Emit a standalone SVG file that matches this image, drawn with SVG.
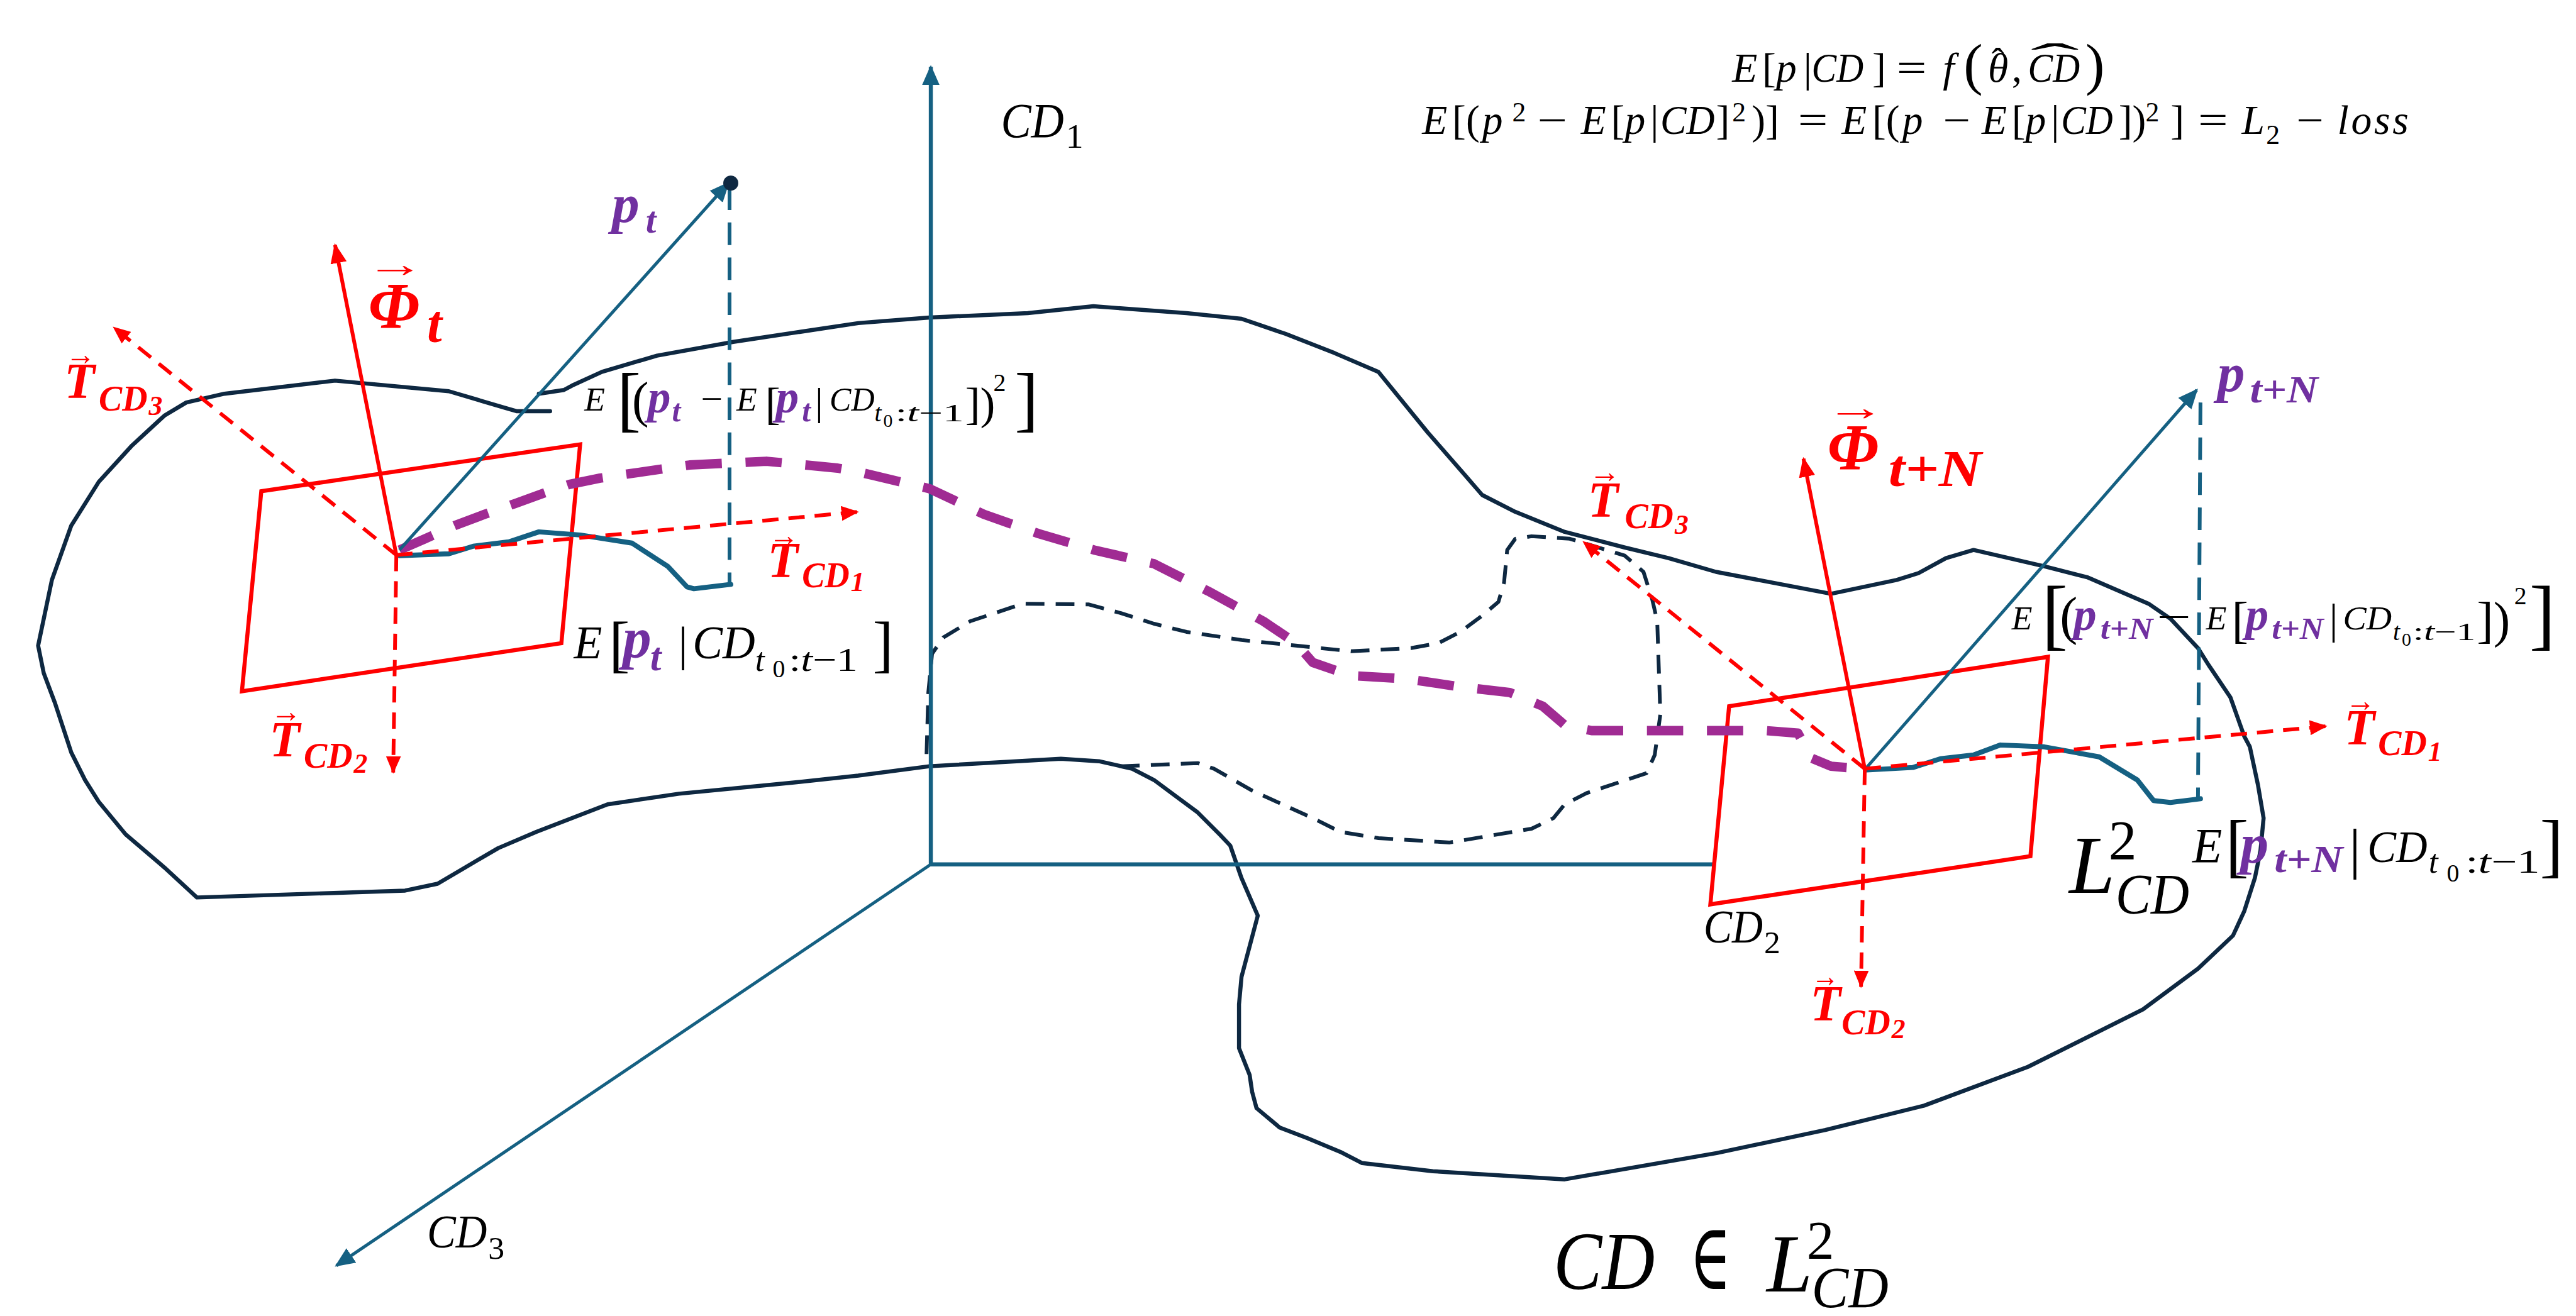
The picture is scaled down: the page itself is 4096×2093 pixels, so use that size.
<svg xmlns="http://www.w3.org/2000/svg" width="4096" height="2093" viewBox="0 0 4096 2093">
<defs>
<style>
.ol{fill:none;stroke:#0E2841;stroke-width:6.5;stroke-linejoin:round;stroke-linecap:round}
.old{fill:none;stroke:#0E2841;stroke-width:6;stroke-dasharray:30 18;stroke-linejoin:round}
.ax{fill:none;stroke:#156082;stroke-width:6.5}
.axt{fill:none;stroke:#156082;stroke-width:5}
.tw{fill:none;stroke:#156082;stroke-width:8;stroke-linejoin:round;stroke-linecap:round}
.tv{fill:none;stroke:#156082;stroke-width:6;stroke-dasharray:36 20}
.pd{fill:none;stroke:#A02B93;stroke-width:15;stroke-dasharray:58 38;stroke-linejoin:round}
.rs{fill:none;stroke:#FF0000;stroke-width:6}
.rd{fill:none;stroke:#FF0000;stroke-width:6;stroke-dasharray:26 16}
.pl{fill:none;stroke:#FF0000;stroke-width:6.5}
text{font-family:"Liberation Serif","DejaVu Serif",serif}
.m{font-style:italic;fill:#000}
.u{font-style:normal;fill:#000}
.r{font-style:italic;font-weight:bold;fill:#FF0000}
.pu{font-style:italic;font-weight:bold;fill:#7030A0}
</style>
<marker id="mR" viewBox="0 0 32 26" refX="29" refY="13" markerWidth="32" markerHeight="26" markerUnits="userSpaceOnUse" orient="auto"><path d="M0,0L32,13L0,26z" fill="#FF0000"/></marker>
<marker id="mRs" viewBox="0 0 28 24" refX="26" refY="12" markerWidth="28" markerHeight="24" markerUnits="userSpaceOnUse" orient="auto"><path d="M0,0L28,12L0,24z" fill="#FF0000"/></marker>
<marker id="mT" viewBox="0 0 32 28" refX="29" refY="14" markerWidth="32" markerHeight="28" markerUnits="userSpaceOnUse" orient="auto"><path d="M0,0L32,14L0,28z" fill="#156082"/></marker>
</defs>
<rect width="4096" height="2093" fill="#FFFFFF"/>
<g transform="scale(0.994)">

<g id="connectors">
<path id="outline" class="ol" d="M880,658 L827,658 806,652 762,639 718,626 536,609 359,630 298,644 263,665 210,714 158,771 114,841 83,928 61,1033 70,1077 88,1125 114,1204 136,1248 158,1283 201,1335 263,1388 315,1436 648,1425 700,1414 744,1388 797,1357 858,1331 972,1287 1086,1270 1270,1252 1373,1241 1487,1226 1697,1214 1758,1218 1811,1230 1846,1248 1916,1300 1951,1335 1968,1353 1986,1405 2012,1465 1986,1563 1982,1607 1982,1677 1999,1720 2003,1747 2010,1773 2047,1804 2091,1821 2144,1843 2179,1861 2292,1874 2503,1887 2746,1845 2920,1808 3078,1769 3244,1707 3428,1615 3516,1550 3572,1497 3590,1458 3607,1405 3616,1361 3621,1309 3612,1256 3599,1195 3590,1178 3568,1116 3533,1064 3516,1037 3472,990 3437,966 3340,924 3270,906 3157,880 3113,893 3069,917 3034,928 2929,950 2745,915 2669,893 2599,876 2503,851 2424,819 2371,792 2345,762 2284,692 2205,595 2135,565 2056,534 1986,510 1898,501 1749,490 1644,501 1487,508 1373,517 1173,547 1051,569 963,595 915,617 902,624 862,630"/>
<path id="inner-dashed" class="old" d="M1793,1226 L1916,1221 1942,1230 2003,1265 2100,1309 2144,1331 2205,1341 2319,1348 2450,1326 2485,1309 2503,1287 2538,1269 2634,1237 2647,1208 2656,1143 2651,994 2643,959 2629,915 2599,889 2511,862 2450,858 2424,862 2411,880 2406,932 2397,963 2371,985 2336,1011 2301,1029 2257,1037 2161,1042 2073,1033 1986,1024 1898,1011 1846,998 1793,981 1741,967 1636,966 1552,994 1509,1020 1491,1046 1485,1108 1482,1213"/>
<line id="axis-cd1" class="ax" x1="1489" y1="1383" x2="1489" y2="107" marker-end="url(#mT)"/>
<line id="axis-cd2" class="ax" x1="1489" y1="1383" x2="2742" y2="1383"/>
<line id="axis-cd3" class="axt" x1="1489" y1="1383" x2="538" y2="2025" marker-end="url(#mT)"/>
<polygon id="plane-left" class="pl" points="418,786 928,711 898,1029 387,1106"/>
<polygon id="plane-right" class="pl" points="2766,1130 3276,1051 3248,1370 2736,1447"/>
<path id="trajectory" class="pd" d="M639,880 L680,862 727,841 775,823 823,806 870,789 911,775 960,765 1007,758 1103,744 1226,738 1340,749 1373,755 1487,782 1574,823 1662,854 1750,880 1846,902 1933,946 2021,994 2073,1029 2100,1060 2161,1081 2249,1086 2336,1099 2415,1108 2468,1130 2503,1160 2546,1169 2643,1169 2746,1169 2824,1169 2876,1173 2898,1213 2929,1226 2977,1230"/>
<polyline id="wiggle-left" class="tw" points="639,889 718,886 757,874 814,867 862,851 928,856 1011,869 1068,906 1099,939 1110,942 1169,935"/>
<polyline id="wiggle-right" class="tw" points="2986,1232 3060,1228 3104,1214 3157,1208 3200,1192 3270,1195 3358,1211 3419,1248 3445,1281 3472,1284 3520,1278"/>
<line id="proj-left" class="tv" x1="1167" y1="300" x2="1167" y2="935"/>
<line id="proj-right" class="tv" x1="3520" y1="644" x2="3516" y2="1278"/>
<line id="pt-vec" class="axt" x1="639" y1="880" x2="1165" y2="293" marker-end="url(#mT)"/>
<line id="ptn-vec" class="axt" x1="2986" y1="1228" x2="3514" y2="624" marker-end="url(#mT)"/>
<circle id="pt-dot" cx="1169" cy="293" r="12" fill="#0E2841"/>
<line id="phi-left" class="rs" x1="634" y1="888" x2="536" y2="392" marker-end="url(#mR)"/>
<line id="tcd3-left" class="rd" x1="634" y1="888" x2="182" y2="524" marker-end="url(#mRs)"/>
<line id="tcd2-left" class="rd" x1="634" y1="888" x2="629" y2="1236" marker-end="url(#mRs)"/>
<line id="tcd1-left" class="rd" x1="634" y1="888" x2="1372" y2="819" marker-end="url(#mRs)"/>
<line id="phi-right" class="rs" x1="2983" y1="1230" x2="2885" y2="734" marker-end="url(#mR)"/>
<line id="tcd3-right" class="rd" x1="2983" y1="1230" x2="2533" y2="867" marker-end="url(#mRs)"/>
<line id="tcd2-right" class="rd" x1="2983" y1="1230" x2="2977" y2="1579" marker-end="url(#mRs)"/>
<line id="tcd1-right" class="rd" x1="2983" y1="1230" x2="3721" y2="1162" marker-end="url(#mRs)"/>
</g>

<g id="formula-top">
<text font-size="66"><tspan class="m" x="2771" y="131">E</tspan><tspan class="u" x="2819" y="131">[</tspan><tspan class="m" x="2841" y="131">p</tspan><tspan class="u" x="2885" y="131">|</tspan><tspan class="m" x="2898" y="131" textLength="83" lengthAdjust="spacingAndGlyphs">CD</tspan><tspan class="u" x="2995" y="131">]</tspan><tspan class="u" x="3034" y="131" textLength="48" lengthAdjust="spacingAndGlyphs">=</tspan><tspan class="m" x="3108" y="131">f</tspan><tspan class="m" x="3180" y="131">θ</tspan><tspan class="u" x="3218" y="131">,</tspan><tspan class="m" x="3244" y="131" textLength="83" lengthAdjust="spacingAndGlyphs">CD</tspan></text>
<text class="u" font-size="92" x="3141" y="134">(</text>
<text class="u" font-size="92" x="3336" y="134">)</text>
<text class="u" font-size="60" x="3186" y="118">ˆ</text>
<text class="u" font-size="66" x="3248" y="116" textLength="78" lengthAdjust="spacingAndGlyphs">ˆ</text>
<text font-size="66"><tspan class="m" x="2275" y="214">E</tspan><tspan class="u" x="2323" y="214">[(</tspan><tspan class="m" x="2371" y="214">p</tspan><tspan class="u" font-size="44" x="2419" y="194">2</tspan><tspan class="u" x="2459" y="214" textLength="48" lengthAdjust="spacingAndGlyphs">−</tspan><tspan class="m" x="2529" y="214">E</tspan><tspan class="u" x="2577" y="214">[</tspan><tspan class="m" x="2599" y="214">p</tspan><tspan class="u" x="2640" y="214">|</tspan><tspan class="m" x="2656" y="214" textLength="87" lengthAdjust="spacingAndGlyphs">CD</tspan><tspan class="u" x="2745" y="214">]</tspan><tspan class="u" font-size="44" x="2771" y="194">2</tspan><tspan class="u" x="2802" y="214">)]</tspan><tspan class="u" x="2876" y="214" textLength="48" lengthAdjust="spacingAndGlyphs">=</tspan><tspan class="m" x="2946" y="214">E</tspan><tspan class="u" x="2995" y="214">[(</tspan><tspan class="m" x="3043" y="214">p</tspan><tspan class="u" x="3108" y="214" textLength="44" lengthAdjust="spacingAndGlyphs">−</tspan><tspan class="m" x="3170" y="214">E</tspan><tspan class="u" x="3218" y="214">[</tspan><tspan class="m" x="3240" y="214">p</tspan><tspan class="u" x="3281" y="214">|</tspan><tspan class="m" x="3297" y="214" textLength="83" lengthAdjust="spacingAndGlyphs">CD</tspan><tspan class="u" x="3389" y="214">])</tspan><tspan class="u" font-size="44" x="3432" y="194">2</tspan><tspan class="u" x="3472" y="214">]</tspan><tspan class="u" x="3516" y="214" textLength="48" lengthAdjust="spacingAndGlyphs">=</tspan><tspan class="m" x="3586" y="214">L</tspan><tspan class="u" font-size="44" x="3625" y="230">2</tspan><tspan class="u" x="3673" y="214" textLength="44" lengthAdjust="spacingAndGlyphs">−</tspan><tspan class="m" x="3739" y="214" textLength="114">loss</tspan></text>
</g>

<g id="axis-labels">
<text font-size="78"><tspan class="m" x="1601" y="219" textLength="101" lengthAdjust="spacingAndGlyphs">CD</tspan><tspan class="u" font-size="56" x="1705" y="236">1</tspan></text>
<text font-size="74"><tspan class="m" x="683" y="1996" textLength="96" lengthAdjust="spacingAndGlyphs">CD</tspan><tspan class="u" font-size="52" x="781" y="2014">3</tspan></text>
<text font-size="74"><tspan class="m" x="2725" y="1508" textLength="95" lengthAdjust="spacingAndGlyphs">CD</tspan><tspan class="u" font-size="52" x="2822" y="1525">2</tspan></text>
</g>

<g id="label-phi-t">
<text class="r" font-size="60" x="585" y="443" textLength="94" lengthAdjust="spacingAndGlyphs">→</text>
<text class="r" font-size="104"><tspan x="589" y="524">Φ</tspan><tspan font-size="86" x="683" y="547">t</tspan></text>
</g>
<g id="label-phi-tn">
<text class="r" font-size="60" x="2920" y="672" textLength="96" lengthAdjust="spacingAndGlyphs">→</text>
<text class="r" font-size="104"><tspan x="2923" y="751">Φ</tspan><tspan font-size="82" x="3021" y="778" textLength="149" lengthAdjust="spacingAndGlyphs">t+N</tspan></text>
</g>

<g id="label-tcd3-left">
<text class="r" font-size="50" x="105" y="584" textLength="48" lengthAdjust="spacingAndGlyphs">→</text>
<text class="r" font-size="80"><tspan x="103" y="637">T</tspan><tspan font-size="58" x="158" y="657" textLength="78" lengthAdjust="spacingAndGlyphs">CD</tspan><tspan font-size="44" x="238" y="664">3</tspan></text>
</g>
<g id="label-tcd2-left">
<text class="r" font-size="50" x="433" y="1155" textLength="49" lengthAdjust="spacingAndGlyphs">→</text>
<text class="r" font-size="80"><tspan x="431" y="1210">T</tspan><tspan font-size="58" x="486" y="1228" textLength="78" lengthAdjust="spacingAndGlyphs">CD</tspan><tspan font-size="44" x="566" y="1236">2</tspan></text>
</g>
<g id="label-tcd1-left">
<text class="r" font-size="50" x="1230" y="873" textLength="48" lengthAdjust="spacingAndGlyphs">→</text>
<text class="r" font-size="80"><tspan x="1228" y="924">T</tspan><tspan font-size="58" x="1283" y="940" textLength="76" lengthAdjust="spacingAndGlyphs">CD</tspan><tspan font-size="44" x="1361" y="946">1</tspan></text>
</g>
<g id="label-tcd3-right">
<text class="r" font-size="50" x="2542" y="772" textLength="50" lengthAdjust="spacingAndGlyphs">→</text>
<text class="r" font-size="80"><tspan x="2540" y="827">T</tspan><tspan font-size="58" x="2599" y="845" textLength="78" lengthAdjust="spacingAndGlyphs">CD</tspan><tspan font-size="44" x="2679" y="854">3</tspan></text>
</g>
<g id="label-tcd1-right">
<text class="r" font-size="50" x="3752" y="1138" textLength="48" lengthAdjust="spacingAndGlyphs">→</text>
<text class="r" font-size="80"><tspan x="3750" y="1191">T</tspan><tspan font-size="58" x="3804" y="1208" textLength="78" lengthAdjust="spacingAndGlyphs">CD</tspan><tspan font-size="44" x="3884" y="1217">1</tspan></text>
</g>
<g id="label-tcd2-right">
<text class="r" font-size="50" x="2898" y="1578" textLength="44" lengthAdjust="spacingAndGlyphs">→</text>
<text class="r" font-size="80"><tspan x="2896" y="1633">T</tspan><tspan font-size="58" x="2946" y="1655" textLength="78" lengthAdjust="spacingAndGlyphs">CD</tspan><tspan font-size="44" x="3026" y="1661">2</tspan></text>
</g>

<g id="label-pt">
<text class="pu" font-size="88"><tspan x="979" y="355">p</tspan><tspan font-size="60" x="1033" y="372">t</tspan></text>
</g>
<g id="label-ptn">
<text class="pu" font-size="88"><tspan x="3547" y="626">p</tspan><tspan font-size="62" x="3599" y="644" textLength="109" lengthAdjust="spacingAndGlyphs">t+N</tspan></text>
</g>

<g id="formula-var-left">
<text class="m" font-size="54" x="935" y="657">E</text>
<text class="u" font-size="115" x="987" y="677">[</text>
<text class="u" font-size="80" x="1011" y="667">(</text>
<text class="pu" font-size="74"><tspan x="1036" y="660">p</tspan><tspan font-size="50" x="1075" y="674">t</tspan></text>
<text class="u" font-size="56" x="1121" y="657" textLength="35" lengthAdjust="spacingAndGlyphs">−</text>
<text class="m" font-size="54" x="1178" y="657">E</text>
<text class="u" font-size="72" x="1224" y="670">[</text>
<text class="pu" font-size="74"><tspan x="1241" y="660">p</tspan><tspan font-size="50" x="1283" y="674">t</tspan></text>
<text class="u" font-size="62" x="1304" y="664">|</text>
<text class="m" font-size="54" x="1327" y="657" textLength="72" lengthAdjust="spacingAndGlyphs">CD</text>
<text font-size="40"><tspan class="m" x="1399" y="674">t</tspan><tspan class="u" font-size="30" x="1413" y="683">0</tspan><tspan class="u" x="1432" y="674" textLength="110" lengthAdjust="spacingAndGlyphs">:<tspan class="m">t</tspan>−1</tspan></text>
<text class="u" font-size="72" x="1544" y="670">])</text>
<text class="u" font-size="40" x="1589" y="626">2</text>
<text class="u" font-size="115" x="1623" y="677">]</text>
</g>

<g id="formula-mean-left">
<text class="m" font-size="74" x="918" y="1053">E</text>
<text class="u" font-size="100" x="974" y="1064">[</text>
<text class="pu" font-size="92"><tspan x="996" y="1052">p</tspan><tspan font-size="64" x="1040" y="1072">t</tspan></text>
<text class="u" font-size="76" x="1085" y="1056">|</text>
<text class="m" font-size="74" x="1108" y="1053" textLength="100" lengthAdjust="spacingAndGlyphs">CD</text>
<text font-size="54"><tspan class="m" x="1208" y="1073">t</tspan><tspan class="u" font-size="40" x="1236" y="1084">0</tspan><tspan class="u" x="1262" y="1073" textLength="110" lengthAdjust="spacingAndGlyphs">:<tspan class="m">t</tspan>−1</tspan></text>
<text class="u" font-size="100" x="1396" y="1064">]</text>
</g>

<g id="formula-var-right">
<text class="m" font-size="54" x="3218" y="1007">E</text>
<text class="u" font-size="125" x="3266" y="1024">[</text>
<text class="u" font-size="85" x="3295" y="1014">(</text>
<text class="pu" font-size="74"><tspan x="3317" y="1008">p</tspan><tspan font-size="48" x="3360" y="1022" textLength="84" lengthAdjust="spacingAndGlyphs">t+N</tspan></text>
<text class="u" font-size="60" x="3450" y="1007" textLength="55" lengthAdjust="spacingAndGlyphs">−</text>
<text class="m" font-size="54" x="3529" y="1007">E</text>
<text class="u" font-size="80" x="3570" y="1019">[</text>
<text class="pu" font-size="74"><tspan x="3592" y="1008">p</tspan><tspan font-size="48" x="3634" y="1022" textLength="83" lengthAdjust="spacingAndGlyphs">t+N</tspan></text>
<text class="u" font-size="68" x="3726" y="1014">|</text>
<text class="m" font-size="54" x="3748" y="1007" textLength="78" lengthAdjust="spacingAndGlyphs">CD</text>
<text font-size="40"><tspan class="m" x="3828" y="1024">t</tspan><tspan class="u" font-size="30" x="3842" y="1033">0</tspan><tspan class="u" x="3860" y="1024" textLength="100" lengthAdjust="spacingAndGlyphs">:<tspan class="m">t</tspan>−1</tspan></text>
<text class="u" font-size="80" x="3962" y="1019">])</text>
<text class="u" font-size="40" x="4022" y="967">2</text>
<text class="u" font-size="125" x="4046" y="1024">]</text>
</g>

<g id="formula-mean-right">
<text class="m" font-size="78" x="3507" y="1379">E</text>
<text class="u" font-size="112" x="3560" y="1390">[</text>
<text class="pu" font-size="90"><tspan x="3584" y="1380">p</tspan><tspan font-size="62" x="3638" y="1395" textLength="110" lengthAdjust="spacingAndGlyphs">t+N</tspan></text>
<text class="u" font-size="90" x="3758" y="1388">|</text>
<text class="m" font-size="72" x="3787" y="1379" textLength="96" lengthAdjust="spacingAndGlyphs">CD</text>
<text font-size="54"><tspan class="m" x="3885" y="1396">t</tspan><tspan class="u" font-size="40" x="3914" y="1410">0</tspan><tspan class="u" x="3944" y="1396" textLength="119" lengthAdjust="spacingAndGlyphs">:<tspan class="m">t</tspan>−1</tspan></text>
<text class="u" font-size="112" x="4063" y="1390">]</text>
</g>

<g id="label-L2">
<text font-size="132"><tspan class="m" x="3310" y="1429">L</tspan><tspan class="u" font-size="90" x="3373" y="1374">2</tspan><tspan class="m" font-size="92" x="3384" y="1462" textLength="118" lengthAdjust="spacingAndGlyphs">CD</tspan></text>
</g>
<g id="label-CD-in-L2">
<text font-size="132"><tspan class="m" x="2485" y="2062" textLength="162" lengthAdjust="spacingAndGlyphs">CD</tspan><tspan class="u" font-size="150" x="2703" y="2062" textLength="66" lengthAdjust="spacingAndGlyphs">∈</tspan><tspan class="m" x="2826" y="2066">L</tspan><tspan class="u" font-size="88" x="2890" y="2014">2</tspan><tspan class="m" font-size="94" x="2898" y="2092" textLength="123" lengthAdjust="spacingAndGlyphs">CD</tspan></text>
</g>

</g>
</svg>
